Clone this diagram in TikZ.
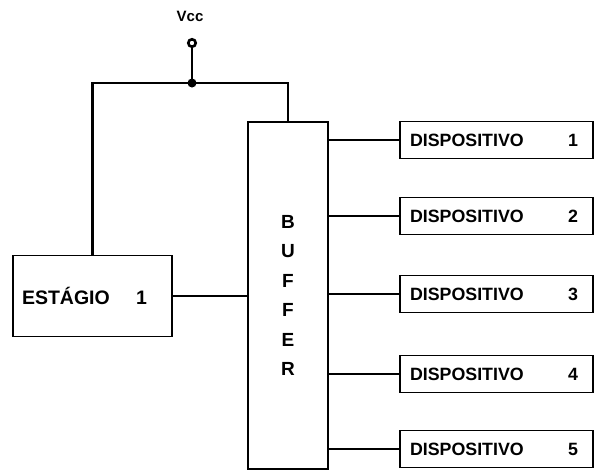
\documentclass[tikz,border=0pt]{standalone}
\usepackage{fontspec}
\setmainfont{Liberation Sans}
\usepackage{tikz}
\tikzset{
  blk/.style={draw,line width=1.8pt,inner sep=0pt},
  dev/.style={blk,text width=173pt,inner xsep=10pt,minimum height=37pt,
    font=\bfseries\fontsize{17.8}{19}\selectfont},
  wire/.style={line width=1.8pt},
  feed/.style={line width=2.4pt}
}
\newcommand{\devtxt}[1]{\makebox[168pt][l]{DISPOSITIVO\hfill #1}}
\begin{document}
\begin{tikzpicture}[x=1pt,y=-1pt]
\useasboundingbox (0,0) rectangle (597,471);
\node[blk,minimum width=80pt,minimum height=347pt,align=center,
  font=\bfseries\fontsize{19}{29.5}\selectfont] (buf) at (288,295.5)
  {B\\U\\F\\F\\E\\R};
\node[blk,text width=141pt,inner xsep=9pt,minimum height=81pt,
  font=\bfseries\fontsize{19.5}{21}\selectfont] (est) at (92.5,296)
  {\makebox[125pt][l]{ESTÁGIO\hfill 1}};
\foreach \i/\y in {1/140,2/216,3/294,4/374,5/449}{
  \node[dev] (dev\i) at (496.5,\y) {\devtxt{\i}};
  \draw[wire] (dev\i.west) -- (dev\i.west -| buf.east);
}
% alimentacao
\node[draw,circle,line width=2.6pt,inner sep=0pt,minimum size=7.5pt] (vcc) at (192,43) {};
\node[font=\bfseries\fontsize{15}{16}\selectfont] (vlab) at (190,16) {Vcc};
\coordinate (j) at (192,83);
\draw[feed] (vcc) -- (j);
\draw[feed] (est.north) |- (j) -| (buf.north);
\fill (j) circle (4.5pt);
\draw[wire] (est.east) -- (est.east -| buf.west);
\end{tikzpicture}
\end{document}
